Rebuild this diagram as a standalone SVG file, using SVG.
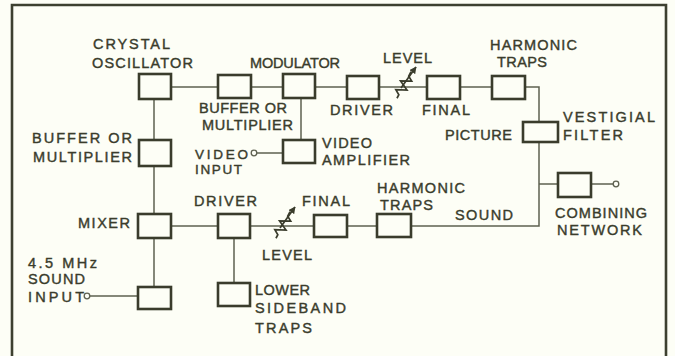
<svg xmlns="http://www.w3.org/2000/svg" width="675" height="356" viewBox="0 0 675 356">
<defs>
<style>
.bx{fill:#fdfef6;stroke:#3a3c2c;stroke-width:2.6}
.ln{fill:none;stroke:#5e6150;stroke-width:1.5}
.t{font-family:"Liberation Sans",Arial,sans-serif;font-size:14.5px;fill:#3a3c2c;stroke:#3a3c2c;stroke-width:0.4}
.tm{fill:#fdfef6;stroke:#5e6150;stroke-width:1.3}
.zz{fill:none;stroke:#3a3c2c;stroke-width:1.7;stroke-linejoin:miter}
</style>
<marker id="ah" viewBox="0 0 10 10" refX="9" refY="5" markerWidth="7" markerHeight="7" orient="auto" markerUnits="userSpaceOnUse">
<path d="M0,0 L10,5 L0,10 z" fill="#3a3c2c"/>
</marker>
</defs>
<rect width="675" height="356" fill="#fdfef6"/>
<path d="M12,360 V5 H666 V360" fill="none" stroke="#3d4030" stroke-width="2.6"/>

<g id="connectors">
<path class="ln" d="M171,87 H218 M251,87 H283 M315,87 H347 M379,87 H427 M460,87 H492 M525,87 H539 V122"/>
<path class="ln" d="M539,143 V226 H411 M539,184 H558 M591,184 H613"/>
<path class="ln" d="M301,98 V140 M257,153 H283"/>
<path class="ln" d="M154,99 V140 M154,166 V214 M154,238 V287"/>
<path class="ln" d="M171,226 H218 M250,226 H314 M347,226 H377 M234,238 V283 M90,296 H138"/>
<circle class="tm" cx="254" cy="153" r="2.8"/>
<circle class="tm" cx="616" cy="184" r="2.8"/>
<circle class="tm" cx="87" cy="296" r="2.8"/>
</g>

<g id="level-top">
<path class="zz" d="M0,-15 L0,-10 L5,-7 L-5,-2 L5,3 L-5,8 L0,11 L0,15" transform="translate(404,85) rotate(28)"/>
<line x1="401" y1="88" x2="416" y2="67" stroke="#3a3c2c" stroke-width="1.7" marker-end="url(#ah)"/>
<text class="t" x="383" y="63" textLength="49">LEVEL</text>
</g>
<g id="level-bottom">
<path class="zz" d="M0,-15 L0,-10 L5,-7 L-5,-2 L5,3 L-5,8 L0,11 L0,15" transform="translate(283,225) rotate(28)"/>
<line x1="280" y1="228" x2="295" y2="207" stroke="#3a3c2c" stroke-width="1.7" marker-end="url(#ah)"/>
<text class="t" x="262" y="260" textLength="50">LEVEL</text>
</g>

<g id="crystal-oscillator">
<rect class="bx" x="139" y="74" width="32" height="25"/>
<text class="t" x="93" y="49" textLength="77">CRYSTAL</text>
<text class="t" x="92" y="68" textLength="101">OSCILLATOR</text>
</g>
<g id="buffer-top">
<rect class="bx" x="218" y="75" width="33" height="23"/>
<text class="t" x="199" y="113" textLength="88">BUFFER OR</text>
<text class="t" x="202" y="130" textLength="91">MULTIPLIER</text>
</g>
<g id="modulator">
<rect class="bx" x="283" y="74" width="32" height="24"/>
<text class="t" x="250" y="68" textLength="90">MODULATOR</text>
</g>
<g id="driver-top">
<rect class="bx" x="347" y="76" width="32" height="23"/>
<text class="t" x="330" y="115" textLength="63">DRIVER</text>
</g>
<g id="final-top">
<rect class="bx" x="427" y="76" width="33" height="23"/>
<text class="t" x="422" y="115" textLength="48">FINAL</text>
</g>
<g id="harmonic-top">
<rect class="bx" x="492" y="76" width="33" height="23"/>
<text class="t" x="490" y="50" textLength="87">HARMONIC</text>
<text class="t" x="497" y="67" textLength="50">TRAPS</text>
</g>
<g id="vestigial-filter">
<rect class="bx" x="523" y="122" width="35" height="20"/>
<text class="t" x="445" y="140" textLength="67">PICTURE</text>
<text class="t" x="563" y="122" textLength="92">VESTIGIAL</text>
<text class="t" x="563" y="140" textLength="60">FILTER</text>
</g>
<g id="video-amplifier">
<rect class="bx" x="283" y="140" width="32" height="23"/>
<text class="t" x="322" y="148" textLength="50">VIDEO</text>
<text class="t" x="322" y="165" textLength="88">AMPLIFIER</text>
</g>
<g id="video-input">
<text class="t" x="195" y="159" textLength="53" style="font-size:13.5px">VIDEO</text>
<text class="t" x="195" y="174" textLength="47" style="font-size:13.5px">INPUT</text>
</g>
<g id="buffer-left">
<rect class="bx" x="139" y="140" width="32" height="26"/>
<text class="t" x="32" y="143" textLength="100">BUFFER OR</text>
<text class="t" x="33" y="162" textLength="99">MULTIPLIER</text>
</g>
<g id="mixer">
<rect class="bx" x="138" y="214" width="33" height="24"/>
<text class="t" x="78" y="228" textLength="52">MIXER</text>
</g>
<g id="sound-input">
<rect class="bx" x="138" y="287" width="33" height="22"/>
<text class="t" x="28" y="268" textLength="69">4.5 MHz</text>
<text class="t" x="28" y="284" textLength="57">SOUND</text>
<text class="t" x="28" y="302" textLength="56">INPUT</text>
</g>
<g id="driver-bottom">
<rect class="bx" x="218" y="214" width="32" height="24"/>
<text class="t" x="194" y="206" textLength="63">DRIVER</text>
</g>
<g id="lower-sideband">
<rect class="bx" x="218" y="283" width="32" height="23"/>
<text class="t" x="255" y="295" textLength="55">LOWER</text>
<text class="t" x="255" y="313" textLength="91">SIDEBAND</text>
<text class="t" x="255" y="333" textLength="57">TRAPS</text>
</g>
<g id="final-bottom">
<rect class="bx" x="314" y="215" width="33" height="22"/>
<text class="t" x="302" y="206" textLength="48">FINAL</text>
</g>
<g id="harmonic-bottom">
<rect class="bx" x="377" y="214" width="34" height="23"/>
<text class="t" x="377" y="193" textLength="88">HARMONIC</text>
<text class="t" x="380" y="210" textLength="53">TRAPS</text>
<text class="t" x="455" y="220" textLength="58">SOUND</text>
</g>
<g id="combining-network">
<rect class="bx" x="558" y="173" width="33" height="24"/>
<text class="t" x="555" y="218" textLength="92">COMBINING</text>
<text class="t" x="557" y="235" textLength="85">NETWORK</text>
</g>
</svg>
